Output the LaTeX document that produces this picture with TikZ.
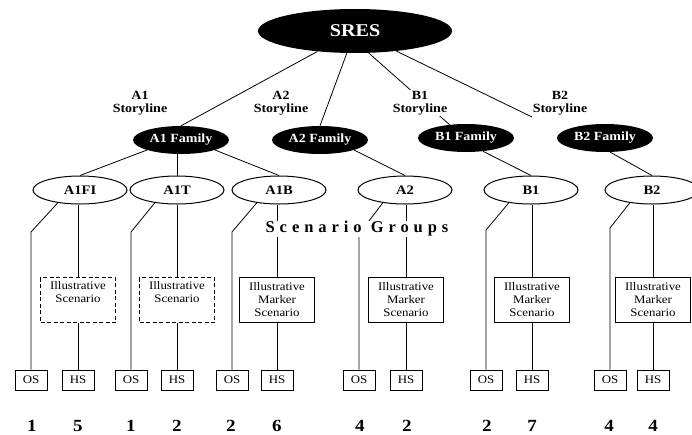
\documentclass[tikz,border=0pt]{standalone}
\usepackage{fontspec}
\setmainfont{Liberation Serif}[FakeStretch=1.12]
\newfontfamily\spacedfont{Liberation Serif}[LetterSpace=30]
\usetikzlibrary{shapes.geometric,calc}
\begin{document}
\begin{tikzpicture}[x=1pt,y=-1pt,
  top/.style={ellipse, fill=black, text=white, font=\fontsize{18}{20}\selectfont\bfseries, minimum width=194pt, minimum height=44pt, inner sep=0pt},
  fam/.style={ellipse, fill=black, text=white, font=\fontsize{12.5}{14}\selectfont\bfseries, minimum width=96pt, minimum height=28pt, inner sep=0pt},
  grp/.style={ellipse, draw, line width=1pt, font=\fontsize{13}{15}\selectfont\bfseries, minimum width=94pt, minimum height=28pt, inner sep=0pt},
  story/.style={fill=white, align=center, font=\fontsize{12.5}{12.5}\selectfont\bfseries, inner sep=1pt},
  illus/.style={draw, line width=0.9pt, minimum width=75pt, minimum height=45pt, align=center, font=\fontsize{11.5}{13}\selectfont, inner sep=0pt},
  dashbox/.style={illus, dash pattern=on 4pt off 2.5pt},
  sbox/.style={draw, line width=0.9pt, minimum width=32pt, minimum height=20pt, inner sep=0pt, font=\fontsize{11.5}{12}\selectfont},
  num/.style={font=\fontsize{17}{18}\selectfont\bfseries},
  conn/.style={line width=0.8pt},
  groups/.style={fill=white, inner sep=1pt, font=\fontsize{16.5}{17}\selectfont\spacedfont\bfseries}
]
\useasboundingbox (0,0) rectangle (692,434);

% top and families
\node[top] (sres) at (355,31) {SRES};
\node[fam] (a1fam) at (181,140) {A1 Family};
\node[fam] (a2fam) at (320,140) {A2 Family};
\node[fam] (b1fam) at (466,138) {B1 Family};
\node[fam] (b2fam) at (605,138) {B2 Family};
\coordinate (b2end) at (532,117);

% scenario groups
\node[grp] (a1fi) at (80,190) {A1FI};
\node[grp] (a1t) at (177,190) {A1T};
\node[grp] (a1b) at (279,190) {A1B};
\node[grp] (a2) at (405,190) {A2};
\node[grp] (b1) at (531,190) {B1};
\node[grp] (b2) at (652,190) {B2};

% illustrative boxes
\node[dashbox] (i1) at (78,300) {Illustrative\\Scenario\\\strut};
\node[dashbox] (i2) at (177,300) {Illustrative\\Scenario\\\strut};
\node[illus] (i3) at (277,300) {Illustrative\\Marker\\Scenario};
\node[illus] (i4) at (406,300) {Illustrative\\Marker\\Scenario};
\node[illus] (i5) at (532,300) {Illustrative\\Marker\\Scenario};
\node[illus] (i6) at (653,300) {Illustrative\\Marker\\Scenario};

% OS / HS boxes
\node[sbox] (os1) at (31,380) {OS};
\node[sbox] (hs1) at (78,380) {HS};
\node[sbox] (os2) at (131,380) {OS};
\node[sbox] (hs2) at (177,380) {HS};
\node[sbox] (os3) at (232,380) {OS};
\node[sbox] (hs3) at (277,380) {HS};
\node[sbox] (os4) at (359,380) {OS};
\node[sbox] (hs4) at (406,380) {HS};
\node[sbox] (os5) at (486,380) {OS};
\node[sbox] (hs5) at (532,380) {HS};
\node[sbox] (os6) at (610,380) {OS};
\node[sbox] (hs6) at (653,380) {HS};

% bend levels
\coordinate (lvA) at (0,232);
\coordinate (lvB) at (0,234);
\coordinate (lvC) at (0,230);
\coordinate (lvD) at (0,228);

% connectors from SRES
\draw[conn] (sres) -- (a1fam.north);
\draw[conn] (sres) -- (a2fam.north);
\draw[conn] (sres.-58) -- (b1fam.141);
\draw[conn] (sres) -- (b2end);

% family to group
\draw[conn] (a1fam.south west) -- (a1fi.north);
\draw[conn] (a1t.north) -- (a1t.north |- a1fam.south);
\draw[conn] (a1fam.south east) -- (a1b.north);
\draw[conn] (a2fam.south east) -- (a2.north);
\draw[conn] (b1fam.-38) -- (b1.north);
\draw[conn] (b2fam.-70) -- (b2.north);

% group to OS (left lines)
\draw[conn] (a1fi.210) -- (os1.north |- lvA) -- (os1.north);
\draw[conn] (a1t.210) -- (os2.north |- lvA) -- (os2.north);
\draw[conn] (a1b.210) -- (os3.north |- lvA) -- (os3.north);
\draw[conn] (a2.210) -- (os4.north |- lvB) -- (os4.north);
\draw[conn] (b1.210) -- (os5.north |- lvC) -- (os5.north);
\draw[conn] (b2.210) -- (os6.north |- lvD) -- (os6.north);

% group to illustrative to HS
\foreach \g/\i/\h in {a1fi/i1/hs1, a1t/i2/hs2, a1b/i3/hs3, a2/i4/hs4, b1/i5/hs5, b2/i6/hs6}{
  \draw[conn] (\i.north |- \g.south) -- (\i.north);
  \draw[conn] (\i.south) -- (\h.north);
}

% storyline labels
\node[story] (sa1) at (140,103) {A1\\Storyline};
\node[story] (sa2) at (281,103) {A2\\Storyline};
\node[story] (sb1) at (420,103) {B1\\Storyline};
\node[story] (sb2) at (560,103) {B2\\Storyline};

% scenario groups label
\node[groups] (sg) at (357,229) {Scenario Groups};

% counts
\node[num] (n1) at (32,426) {1};
\node[num] (n2) at (78,426) {5};
\node[num] (n3) at (131,426) {1};
\node[num] (n4) at (177,426) {2};
\node[num] (n5) at (231,426) {2};
\node[num] (n6) at (277,426) {6};
\node[num] (n7) at (360,426) {4};
\node[num] (n8) at (407,426) {2};
\node[num] (n9) at (487,426) {2};
\node[num] (n10) at (532,426) {7};
\node[num] (n11) at (609,426) {4};
\node[num] (n12) at (653,426) {4};
\end{tikzpicture}
\end{document}
